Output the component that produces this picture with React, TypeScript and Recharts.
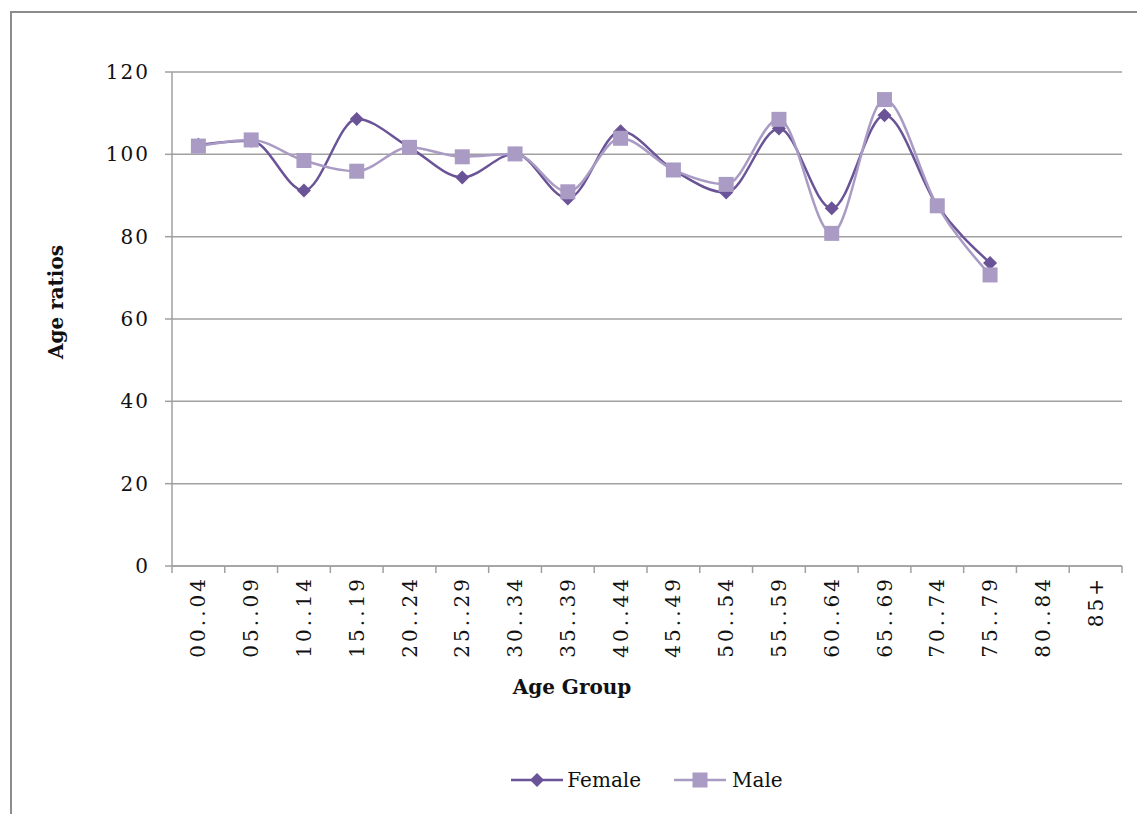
import { LineChart, Line, XAxis, YAxis, CartesianGrid, Legend } from 'recharts';

const AGE_GROUPS = ['00..04', '05..09', '10..14', '15..19', '20..24', '25..29', '30..34', '35..39', '40..44', '45..49', '50..54', '55..59', '60..64', '65..69', '70..74', '75..79', '80..84', '85+'];
const FEMALE = [102.3, 103.3, 91.2, 108.6, 101.7, 94.4, 100.2, 89.3, 105.6, 96.2, 90.7, 106.3, 86.9, 109.5, 87.5, 73.6, null, null];
const MALE = [102.0, 103.5, 98.5, 95.9, 101.7, 99.4, 100.1, 90.9, 103.9, 96.2, 92.7, 108.5, 80.8, 113.3, 87.5, 70.7, null, null];
const Y_TICKS = [0, 20, 40, 60, 80, 100, 120];

const DATA = AGE_GROUPS.map((g, i) => ({ group: g, female: FEMALE[i], male: MALE[i] }));

const FEMALE_COLOR = '#6a5396';
const MALE_COLOR = '#a99bc4';
const AXIS_COLOR = '#a0a0a0';
const FONT = '"DejaVu Serif", "Liberation Serif", serif';

const Diamond = (props: any) => {
  const { cx, cy } = props;
  if (cx == null || cy == null) return <g key={props.key} />;
  const r = 7;
  return <path key={props.key} d={`M${cx},${cy - r}L${cx + r},${cy}L${cx},${cy + r}L${cx - r},${cy}Z`} fill={FEMALE_COLOR} />;
};

const Square = (props: any) => {
  const { cx, cy } = props;
  if (cx == null || cy == null) return <g key={props.key} />;
  const s = 7.5;
  return <rect key={props.key} x={cx - s} y={cy - s} width={s * 2} height={s * 2} fill={MALE_COLOR} />;
};

// labels rotated, tick marks sit on the category boundaries like Excel
const AgeTick = (props: any) => {
  const { x, y, payload, index } = props;
  const off = payload.offset ?? 0;
  const axisY = y - 14;
  return (
    <g>
      <line x1={x - off} x2={x - off} y1={axisY} y2={axisY + 7} stroke={AXIS_COLOR} strokeWidth={1.5} />
      {index === AGE_GROUPS.length - 1 && (
        <line x1={x + off} x2={x + off} y1={axisY} y2={axisY + 7} stroke={AXIS_COLOR} strokeWidth={1.5} />
      )}
      <text transform={`translate(${x},${y - 4}) rotate(-90)`} textAnchor="end" dominantBaseline="central"
        fontFamily={FONT} fontSize={20} letterSpacing={3} fill="#111">
        {payload.value}
      </text>
    </g>
  );
};

const LegendBox = () => (
  <div style={{ display: 'flex', justifyContent: 'center', alignItems: 'center', fontFamily: FONT, fontSize: 20, color: '#111' }}>
    <svg width={52} height={22}>
      <line x1={0} x2={52} y1={11} y2={11} stroke={FEMALE_COLOR} strokeWidth={2.5} />
      <path d="M26,4L33,11L26,18L19,11Z" fill={FEMALE_COLOR} />
    </svg>
    <span style={{ marginLeft: 4, marginRight: 33 }}>Female</span>
    <svg width={52} height={22}>
      <line x1={0} x2={52} y1={11} y2={11} stroke={MALE_COLOR} strokeWidth={2.5} />
      <rect x={18.5} y={3.5} width={15} height={15} fill={MALE_COLOR} />
    </svg>
    <span style={{ marginLeft: 6 }}>Male</span>
  </div>
);

export default function App() {
  return (
    <div style={{ position: 'absolute', left: 0, top: 0, width: 1137, height: 814, overflow: 'hidden', background: '#fff' }}>
      <div style={{ position: 'absolute', left: 10, top: 11, width: 1160, height: 840, border: '2px solid #8c8c8c', boxSizing: 'border-box' }} />
      <div style={{ position: 'absolute', left: 0, top: 0 }}>
        <LineChart width={1137} height={814} data={DATA} margin={{ top: 72, right: 15, left: 0, bottom: 0 }}>
          <CartesianGrid vertical={false} stroke={AXIS_COLOR} strokeWidth={1.5} />
          <XAxis
            dataKey="group"
            scale="band"
            interval={0}
            height={160}
            tickSize={6}
            tickMargin={8}
            tickLine={false}
            axisLine={{ stroke: AXIS_COLOR, strokeWidth: 1.5 }}
            tick={<AgeTick />}
            label={{ value: 'Age Group', position: 'insideBottom', offset: 32, dx: -75, style: { fontFamily: FONT, fontSize: 20, fontWeight: 'bold', fill: '#111' } }}
          />
          <YAxis
            domain={[0, 120]}
            ticks={Y_TICKS}
            width={172}
            tickSize={7}
            tickMargin={15}
            tickLine={{ stroke: AXIS_COLOR, strokeWidth: 1.5 }}
            axisLine={{ stroke: AXIS_COLOR, strokeWidth: 1.5 }}
            tick={{ fontFamily: FONT, fontSize: 20, fill: '#111', letterSpacing: 2 }}
            label={{ value: 'Age ratios', angle: -90, position: 'insideLeft', offset: 56, dy: -17, style: { fontFamily: FONT, fontSize: 20, fontWeight: 'bold', fill: '#111', textAnchor: 'middle' } }}
          />
          <Legend height={88} content={<LegendBox />} wrapperStyle={{ left: 172, width: 950, top: 768 }} />
          <Line type="monotone" dataKey="female" name="Female" stroke={FEMALE_COLOR} strokeWidth={2.5} dot={Diamond} activeDot={false} isAnimationActive={false} />
          <Line type="monotone" dataKey="male" name="Male" stroke={MALE_COLOR} strokeWidth={2.5} dot={Square} activeDot={false} isAnimationActive={false} />
        </LineChart>
      </div>
    </div>
  );
}
